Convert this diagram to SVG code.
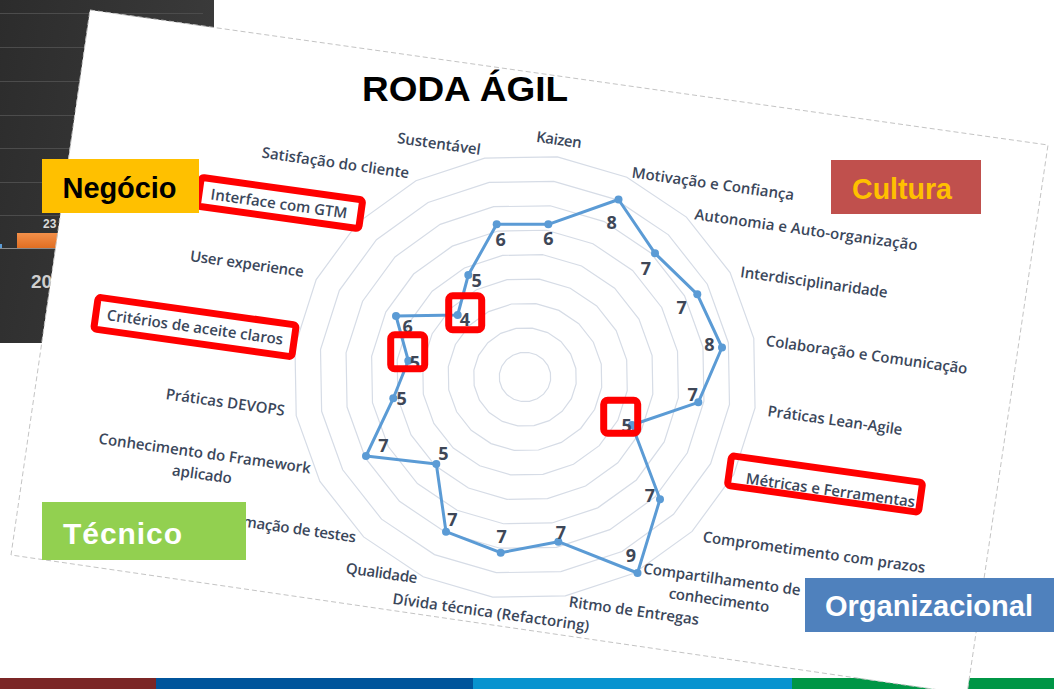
<svg xmlns="http://www.w3.org/2000/svg" xmlns:xlink="http://www.w3.org/1999/xlink" width="1054" height="689" viewBox="0 0 1054 689">
  <style>
    .cat { font-family: "Open Sans", "Liberation Sans", sans-serif; font-size: 15px; font-weight: 600; fill: #3b475b; text-anchor: middle; }
    .val { font-family: "Open Sans", "Liberation Sans", sans-serif; font-size: 18px; font-weight: 700; fill: #3e4757; text-anchor: middle; }
    .tag { font-family: "Liberation Sans", Arial, sans-serif; font-weight: bold; }
    .hl { fill: none; stroke: #ff0000; stroke-width: 7; }
    .pt { fill: #5b9bd5; }
  </style>
  <defs>
    <linearGradient id="dark" x1="0" y1="0" x2="1" y2="0.3">
      <stop offset="0" stop-color="#2c2c2c"/>
      <stop offset="1" stop-color="#3b3b3b"/>
    </linearGradient>
    <linearGradient id="orange" x1="0" y1="0" x2="0" y2="1">
      <stop offset="0" stop-color="#f3904a"/>
      <stop offset="1" stop-color="#e06e22"/>
    </linearGradient>
    <polygon id="ring" vector-effect="non-scaling-stroke" points="0,-100 30.9,-95.11 58.78,-80.9 80.9,-58.78 95.11,-30.9 100,0 95.11,30.9 80.9,58.78 58.78,80.9 30.9,95.11 0,100 -30.9,95.11 -58.78,80.9 -80.9,58.78 -95.11,30.9 -100,0 -95.11,-30.9 -80.9,-58.78 -58.78,-80.9 -30.9,-95.11"/>
  </defs>

  <rect width="1054" height="689" fill="#ffffff"/>

  <!-- background dark chart panel -->
  <g id="dark-panel">
    <rect x="0" y="0" width="214" height="343" fill="url(#dark)"/>
    <g stroke="#4c4c4c" stroke-width="1">
      <line x1="0" y1="13.5" x2="203" y2="13.5"/>
      <line x1="0" y1="47.5" x2="203" y2="47.5"/>
      <line x1="0" y1="81.5" x2="203" y2="81.5"/>
      <line x1="0" y1="115.5" x2="203" y2="115.5"/>
      <line x1="0" y1="148.5" x2="203" y2="148.5"/>
      <line x1="0" y1="182.5" x2="203" y2="182.5"/>
      <line x1="0" y1="215.5" x2="203" y2="215.5"/>
    </g>
    <rect x="17" y="233" width="60" height="15" fill="url(#orange)"/>
    <line x1="0" y1="248.5" x2="203" y2="248.5" stroke="#8a8a8a" stroke-width="1"/>
    <rect x="0" y="244" width="2" height="4" fill="#5b9bd5"/>
    <text x="43" y="228" class="tag" font-size="12" fill="#d9d9d9">23</text>
    <text x="31" y="288" class="tag" font-size="19" fill="#cfcfcf">20</text>
  </g>

  <!-- bottom colour stripe -->
  <g id="stripe">
    <rect x="0" y="678" width="156" height="11" fill="#7b2626"/>
    <rect x="156" y="678" width="317" height="11" fill="#00549b"/>
    <rect x="473" y="678" width="319" height="11" fill="#0893cf"/>
    <rect x="792" y="678" width="262" height="11" fill="#009646"/>
  </g>

  <!-- rotated slide -->
  <polygon id="slide" points="90,10 1048,145 967,694 11,555" fill="#ffffff" stroke="#c4c4c4" stroke-width="1" stroke-dasharray="5 3"/>

  <!-- radar grid -->
  <g id="grid" fill="none" stroke="#d6dce6" stroke-width="1.2">
    <use xlink:href="#ring" transform="translate(525,377) scale(1.045,1) rotate(8) scale(0.247)"/>
    <use xlink:href="#ring" transform="translate(525,377) scale(1.045,1) rotate(8) scale(0.494)"/>
    <use xlink:href="#ring" transform="translate(525,377) scale(1.045,1) rotate(8) scale(0.741)"/>
    <use xlink:href="#ring" transform="translate(525,377) scale(1.045,1) rotate(8) scale(0.988)"/>
    <use xlink:href="#ring" transform="translate(525,377) scale(1.045,1) rotate(8) scale(1.235)"/>
    <use xlink:href="#ring" transform="translate(525,377) scale(1.045,1) rotate(8) scale(1.482)"/>
    <use xlink:href="#ring" transform="translate(525,377) scale(1.045,1) rotate(8) scale(1.729)"/>
    <use xlink:href="#ring" transform="translate(525,377) scale(1.045,1) rotate(8) scale(1.976)"/>
    <use xlink:href="#ring" transform="translate(525,377) scale(1.045,1) rotate(8) scale(2.223)"/>
  </g>

  <!-- data series (connectors) -->
  <g id="connectors">
    <polygon points="548.3,224.3 618.5,199.5 655,253.3 697.3,294.3 722,347.5 698.3,402.3 632,425 660,499.3 637.5,573 558.3,541.7 500.7,552.7 446,531.7 436.3,464 366,456 393.3,398.3 408.3,360.7 396,316 457.7,315 468.3,275 496.7,224.3" fill="none" stroke="#5b9bd5" stroke-width="3" stroke-linejoin="round"/>
  </g>

  <!-- data points with values -->
  <g id="p-kaizen"><circle class="pt" cx="548.3" cy="224.3" r="4"/><text class="val" x="548.3" y="245">6</text></g>
  <g id="p-motivacao"><circle class="pt" cx="618.5" cy="199.5" r="4"/><text class="val" x="611.7" y="228.5">8</text></g>
  <g id="p-autonomia"><circle class="pt" cx="655" cy="253.3" r="4"/><text class="val" x="646" y="275">7</text></g>
  <g id="p-interdisc"><circle class="pt" cx="697.3" cy="294.3" r="4"/><text class="val" x="681.7" y="313.5">7</text></g>
  <g id="p-colab"><circle class="pt" cx="722" cy="347.5" r="4"/><text class="val" x="709.3" y="350.5">8</text></g>
  <g id="p-lean"><circle class="pt" cx="698.3" cy="402.3" r="4"/><text class="val" x="692.7" y="400.5">7</text></g>
  <g id="p-metricas"><circle class="pt" cx="632" cy="425" r="4"/><text class="val" x="626.7" y="431.5">5</text></g>
  <g id="p-comprom"><circle class="pt" cx="660" cy="499.3" r="4"/><text class="val" x="650" y="501.5">7</text></g>
  <g id="p-compart"><circle class="pt" cx="637.5" cy="573" r="4"/><text class="val" x="631" y="561.5">9</text></g>
  <g id="p-ritmo"><circle class="pt" cx="558.3" cy="541.7" r="4"/><text class="val" x="561" y="538.5">7</text></g>
  <g id="p-divida"><circle class="pt" cx="500.7" cy="552.7" r="4"/><text class="val" x="501.7" y="542.5">7</text></g>
  <g id="p-qualidade"><circle class="pt" cx="446" cy="531.7" r="4"/><text class="val" x="452.3" y="526">7</text></g>
  <g id="p-automacao"><circle class="pt" cx="436.3" cy="464" r="4"/><text class="val" x="443.3" y="460">5</text></g>
  <g id="p-conhec"><circle class="pt" cx="366" cy="456" r="4"/><text class="val" x="383.3" y="451.5">7</text></g>
  <g id="p-devops"><circle class="pt" cx="393.3" cy="398.3" r="4"/><text class="val" x="401.7" y="405">5</text></g>
  <g id="p-criterios"><circle class="pt" cx="408.3" cy="360.7" r="4"/><text class="val" x="415" y="368.5">5</text></g>
  <g id="p-ux"><circle class="pt" cx="396" cy="316" r="4"/><text class="val" x="407.7" y="332.5">6</text></g>
  <g id="p-interface"><circle class="pt" cx="457.7" cy="315" r="4"/><text class="val" x="465" y="326">4</text></g>
  <g id="p-satisf"><circle class="pt" cx="468.3" cy="275" r="4"/><text class="val" x="476.7" y="286.5">5</text></g>
  <g id="p-sustent"><circle class="pt" cx="496.7" cy="224.3" r="4"/><text class="val" x="500.7" y="246">6</text></g>

  <!-- category labels -->
  <g id="labels">
    <text class="cat" x="439" y="149" textLength="84" transform="rotate(8 439 144)">Sustentável</text>
    <text class="cat" x="559" y="145" textLength="45.5" transform="rotate(8 559 140)">Kaizen</text>
    <text class="cat" x="713" y="189" textLength="163.6" transform="rotate(8 713 184)">Motivação e Confiança</text>
    <text class="cat" x="806" y="235" textLength="225" transform="rotate(8 806 230)">Autonomia e Auto-organização</text>
    <text class="cat" x="814" y="287.5" textLength="148.5" transform="rotate(8 814 282.5)">Interdisciplinaridade</text>
    <text class="cat" x="866.7" y="360" textLength="203.3" transform="rotate(8 866.7 355)">Colaboração e Comunicação</text>
    <text class="cat" x="835" y="425.5" textLength="136" transform="rotate(8 835 420.5)">Práticas Lean-Agile</text>
    <text class="cat" x="830.5" y="495.5" textLength="170.7" transform="rotate(8 830.5 490.5)">Métricas e Ferramentas</text>
    <text class="cat" x="814" y="557.5" textLength="224.5" transform="rotate(8 814 552.5)">Comprometimento com prazos</text>
    <text class="cat" x="722" y="584.5" textLength="158.6" transform="rotate(8 722 579.5)">Compartilhamento de</text>
    <text class="cat" x="719" y="605.3" textLength="101.3" transform="rotate(8 719 600.3)">conhecimento</text>
    <text class="cat" x="634" y="616" textLength="131.3" transform="rotate(8 634 611)">Ritmo de Entregas</text>
    <text class="cat" x="491" y="617.5" textLength="198.3" transform="rotate(8 491 612.5)">Dívida técnica (Refactoring)</text>
    <text class="cat" x="381.7" y="578.3" textLength="72" transform="rotate(8 381.7 573.3)">Qualidade</text>
    <text class="cat" x="356" y="542.5" textLength="148" style="text-anchor:end" transform="rotate(8 356 537.5)">Automação de testes</text>
    <text class="cat" x="204.7" y="458.5" textLength="214" transform="rotate(8 204.7 453.5)">Conhecimento do Framework</text>
    <text class="cat" x="202" y="479.5" textLength="60" transform="rotate(8 202 474.5)">aplicado</text>
    <text class="cat" x="225.3" y="407.5" textLength="120" transform="rotate(8 225.3 402.5)">Práticas DEVOPS</text>
    <text class="cat" x="195" y="332.5" textLength="177.8" transform="rotate(8 195 327.5)">Critérios de aceite claros</text>
    <text class="cat" x="247" y="269" textLength="114.8" transform="rotate(8 247 264)">User experience</text>
    <text class="cat" x="279" y="209" textLength="137.7" transform="rotate(8 279 204)">Interface com GTM</text>
    <text class="cat" x="335.5" y="168" textLength="148.5" transform="rotate(8 335.5 163)">Satisfação do cliente</text>
  </g>

  <!-- red highlights -->
  <g id="highlights">
    <rect class="hl" x="198.5" y="188.5" width="163" height="29" rx="3" transform="rotate(8 280 203)"/>
    <rect class="hl" x="95" y="311" width="200" height="32" rx="3" transform="rotate(8 195 327)"/>
    <rect class="hl" x="728.5" y="469" width="193" height="30" rx="3" transform="rotate(8 825 484)"/>
    <rect class="hl" x="448.7" y="295.7" width="33" height="34" rx="4"/>
    <rect class="hl" x="390.7" y="334.7" width="34" height="34" rx="4"/>
    <rect class="hl" x="603.7" y="400.3" width="34" height="33" rx="4"/>
  </g>

  <!-- title -->
  <text id="title" class="tag" x="362" y="101" font-size="35" fill="#000000" textLength="206" lengthAdjust="spacingAndGlyphs">RODA ÁGIL</text>

  <!-- group tags -->
  <g id="tag-negocio">
    <rect x="42" y="159" width="157" height="54" fill="#ffc000"/>
    <text class="tag" x="62.5" y="198" font-size="29" fill="#000000" textLength="114">Negócio</text>
  </g>
  <g id="tag-cultura">
    <rect x="831" y="160" width="150" height="54" fill="#c0504d"/>
    <text class="tag" x="852" y="199" font-size="30" fill="#ffc000" textLength="100" lengthAdjust="spacingAndGlyphs">Cultura</text>
  </g>
  <g id="tag-tecnico">
    <rect x="42" y="502" width="204" height="58" fill="#92d050"/>
    <text class="tag" x="63" y="543.5" font-size="30" fill="#ffffff" textLength="119">Técnico</text>
  </g>
  <g id="tag-organizacional">
    <rect x="805" y="578" width="249" height="54" fill="#4f81bd"/>
    <text class="tag" x="825" y="616" font-size="29" fill="#ffffff" textLength="208">Organizacional</text>
  </g>
</svg>
